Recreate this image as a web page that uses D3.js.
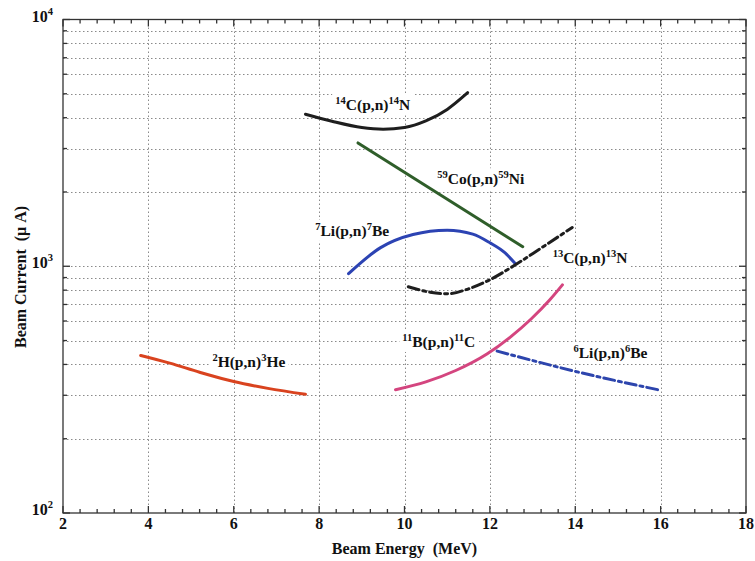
<!DOCTYPE html>
<html>
<head>
<meta charset="utf-8">
<script src="https://cdn.jsdelivr.net/npm/d3@7"></script>
<style>
  body { margin: 0; background: #fff; }
  text { font-family: "Liberation Serif", "Times New Roman", serif; fill: #111; }
</style>
</head>
<body>
<div id="chart"></div>
<script>
// Beam energy (MeV) / beam current (uA)
const h2Energy = [3.82, 4.5, 5.2, 6.0, 6.8, 7.68];
const h2Current = [435, 405, 372, 341, 320, 303];

const c14Energy = [7.68, 8.3, 9.0, 9.5, 10.0, 10.5, 11.0, 11.48];
const c14Current = [4130, 3870, 3650, 3595, 3650, 3880, 4320, 5050];

const co59Energy = [8.91, 12.77];
const co59Current = [3160, 1200];

const li7Energy = [8.69, 9.44, 10.2, 11.0, 11.6, 12.0, 12.35, 12.6];
const li7Current = [933, 1190, 1345, 1400, 1350, 1245, 1135, 1023];

const c13Energy = [10.09, 10.6, 11.0, 11.5, 11.95, 12.56, 13.2, 13.93];
const c13Current = [826, 785, 773, 810, 873, 1004, 1185, 1436];

const b11Energy = [9.79, 10.5, 11.2, 11.94, 12.5, 12.96, 13.4, 13.7];
const b11Current = [316, 340, 378, 442, 520, 610, 730, 841];

const li6Energy = [12.17, 14.0, 16.01];
const li6Current = [453, 375, 314];

// reaction labels ({n} = superscript) and where they sit (energy, current)
const reactionNames = ["{2}H(p,n){3}He", "{14}C(p,n){14}N", "{59}Co(p,n){59}Ni", "{7}Li(p,n){7}Be",
                       "{13}C(p,n){13}N", "{11}B(p,n){11}C", "{6}Li(p,n){6}Be"];
const labelEnergy = [5.50, 8.38, 10.77, 7.91, 13.47, 9.95, 13.96];
const labelCurrent = [392, 4300, 2150, 1327, 1030, 471, 425];

const xTicks = [2, 4, 6, 8, 10, 12, 14, 16, 18];
const yDecades = [100, 1000, 10000];

const series = [
    { x: h2Energy, y: h2Current, color: '#d9431f', dash: null },
    { x: c14Energy, y: c14Current, color: '#1e1e1e', dash: null },
    { x: co59Energy, y: co59Current, color: '#2f5e2a', dash: null },
    { x: li7Energy, y: li7Current, color: '#2c43b3', dash: null },
    { x: c13Energy, y: c13Current, color: '#1e1e1e', dash: '11,4,3,4' },
    { x: b11Energy, y: b11Current, color: '#d4457f', dash: null },
    { x: li6Energy, y: li6Current, color: '#2d45ad', dash: '11,4,3,4' }
];

const width = 755, height = 561;
const margin = { top: 19.5, right: 9, bottom: 48, left: 63 };

const svg = d3.select('#chart').append('svg')
    .attr('width', width)
    .attr('height', height);

const xScale = d3.scaleLinear().domain([2, 18]).range([margin.left, width - margin.right]);
const yScale = d3.scaleLog().domain([100, 10000]).range([height - margin.bottom, margin.top]);

const x0 = xScale.range()[0], x1 = xScale.range()[1];
const y0 = yScale.range()[0], y1 = yScale.range()[1];

// minor values for the log axis
const yMinor = [];
[100, 1000].forEach(d => { for (let k = 2; k <= 9; k++) yMinor.push(d * k); });
const xMinor = d3.range(2, 18.001, 0.4).filter(v => Math.abs(v / 2 - Math.round(v / 2)) > 0.01);

// Grid (dotted)
const grid = svg.append('g').attr('stroke', '#8a8a8a').attr('stroke-width', 1).attr('stroke-dasharray', '1.5,2.5');
grid.selectAll('.hgrid').data(yMinor.concat([1000]))
    .join('line')
    .attr('x1', x0).attr('x2', x1)
    .attr('y1', d => Math.round(yScale(d)) + 0.5).attr('y2', d => Math.round(yScale(d)) + 0.5);
grid.selectAll('.vgrid').data(xTicks.slice(1, -1))
    .join('line')
    .attr('y1', y1).attr('y2', y0)
    .attr('x1', d => Math.round(xScale(d)) + 0.5).attr('x2', d => Math.round(xScale(d)) + 0.5);

// Frame and inward ticks
const axes = svg.append('g').attr('stroke', '#333').attr('stroke-width', 1.3);
axes.append('rect')
    .attr('x', x0).attr('y', y1).attr('width', x1 - x0).attr('height', y0 - y1)
    .attr('fill', 'none');

const xTickData = xTicks.map(v => ({ v, len: 7 })).concat(xMinor.map(v => ({ v, len: 4 })));
axes.selectAll('.xb').data(xTickData).join('line')
    .attr('x1', d => xScale(d.v)).attr('x2', d => xScale(d.v))
    .attr('y1', y0).attr('y2', d => y0 - d.len);
axes.selectAll('.xt').data(xTickData).join('line')
    .attr('x1', d => xScale(d.v)).attr('x2', d => xScale(d.v))
    .attr('y1', y1).attr('y2', d => y1 + d.len);

const yTickData = yDecades.map(v => ({ v, len: 7 })).concat(yMinor.map(v => ({ v, len: 4 })));
axes.selectAll('.yl').data(yTickData).join('line')
    .attr('y1', d => yScale(d.v)).attr('y2', d => yScale(d.v))
    .attr('x1', x0).attr('x2', d => x0 + d.len);
axes.selectAll('.yr').data(yTickData).join('line')
    .attr('y1', d => yScale(d.v)).attr('y2', d => yScale(d.v))
    .attr('x1', x1).attr('x2', d => x1 - d.len);

// X tick labels
svg.selectAll('.xlab').data(xTicks).join('text')
    .attr('x', d => xScale(d))
    .attr('y', y0 + 16)
    .attr('text-anchor', 'middle')
    .attr('font-size', 16)
    .attr('font-weight', 'bold')
    .text(d => d);

// Y tick labels 10^n
const yLab = svg.selectAll('.ylab').data(yDecades).join('text')
    .attr('x', x0 - 10)
    .attr('y', d => yScale(d) + 2)
    .attr('text-anchor', 'end')
    .attr('font-size', 16)
    .attr('font-weight', 'bold');
yLab.append('tspan').text('10');
yLab.append('tspan').attr('font-size', 10.5).attr('dy', -7).text(d => Math.round(Math.log10(d)));

// Axis names
svg.append('text')
    .attr('x', (x0 + x1) / 2)
    .attr('y', height - 7)
    .attr('text-anchor', 'middle')
    .attr('font-size', 16)
    .attr('font-weight', 'bold')
    .attr('xml:space', 'preserve')
    .text('Beam Energy  (MeV)');
svg.append('text')
    .attr('transform', `translate(26, 277) rotate(-90)`)
    .attr('text-anchor', 'middle')
    .attr('font-size', 16)
    .attr('font-weight', 'bold')
    .attr('xml:space', 'preserve')
    .text('Beam Current  (\u03bc A)');

// Reaction labels with white background
const labels = svg.append('g');
reactionNames.forEach((name, i) => {
    const t = labels.append('text')
        .attr('x', xScale(labelEnergy[i]))
        .attr('y', yScale(labelCurrent[i]))
        .attr('font-size', 15.5)
        .attr('font-weight', 'bold');
    const parts = name.split(/(\{\d+\})/).filter(s => s.length);
    let raised = false;
    parts.forEach(p => {
        if (p[0] === '{') {
            t.append('tspan').attr('font-size', 10.5).attr('dy', raised ? 0 : -6).text(p.slice(1, -1));
            raised = true;
        } else {
            t.append('tspan').attr('dy', raised ? 6 : 0).text(p);
            raised = false;
        }
    });
    const bb = t.node().getBBox();
    labels.insert('rect', 'text')
        .attr('x', bb.x - 3).attr('y', bb.y - 1)
        .attr('width', bb.width + 6).attr('height', bb.height + 2)
        .attr('fill', '#fff');
});

// Curves
const line = d3.line()
    .x(d => xScale(d[0]))
    .y(d => yScale(d[1]))
    .curve(d3.curveMonotoneX);

svg.append('g').selectAll('path').data(series).join('path')
    .attr('d', s => line(s.x.map((v, i) => [v, s.y[i]])))
    .attr('fill', 'none')
    .attr('stroke', s => s.color)
    .attr('stroke-width', 3)
    .attr('stroke-linecap', 'round')
    .attr('stroke-dasharray', s => s.dash);
</script>
</body>
</html>
